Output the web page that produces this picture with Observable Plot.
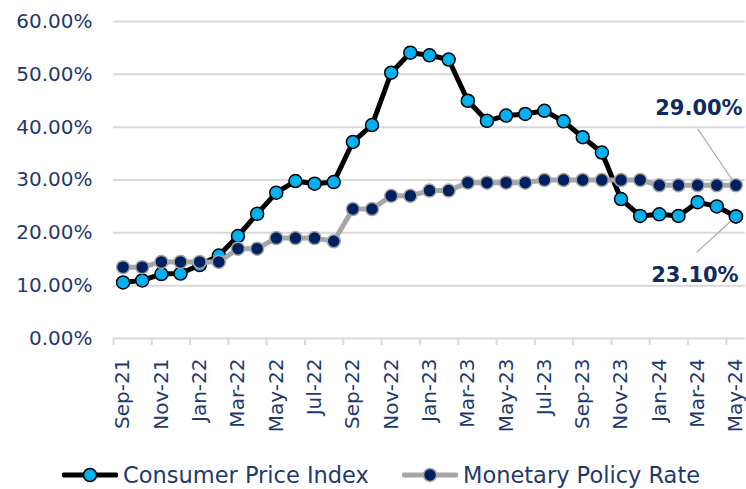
<!DOCTYPE html>
<html>
<head>
<meta charset="utf-8">
<script src="https://cdn.jsdelivr.net/npm/d3@7"></script>
<script src="https://cdn.jsdelivr.net/npm/@observablehq/plot@0.6"></script>
<style>
  html, body { margin: 0; padding: 0; background: #fff; }
  #chart svg { display: block; }
  #legend { position: relative; width: 746px; height: 31px; font-family: "DejaVu Sans", sans-serif; font-size: 22.5px; color: #1f3a6e; }
  .item { position: absolute; top: 0; height: 34px; display: flex; align-items: center; white-space: nowrap; line-height: 1; }
  .item svg { margin-right: 5px; }
</style>
</head>
<body>
<div id="chart"></div>
<div id="legend"></div>
<script>
const months = ["Sep-21","Oct-21","Nov-21","Dec-21","Jan-22","Feb-22","Mar-22","Apr-22","May-22","Jun-22","Jul-22","Aug-22",
  "Sep-22","Oct-22","Nov-22","Dec-22","Jan-23","Feb-23","Mar-23","Apr-23","May-23","Jun-23","Jul-23","Aug-23",
  "Sep-23","Oct-23","Nov-23","Dec-23","Jan-24","Feb-24","Mar-24","Apr-24","May-24"];
const cpi = [10.6, 11.0, 12.2, 12.3, 13.9, 15.7, 19.4, 23.6, 27.6, 29.8, 29.3, 29.6,
  37.2, 40.4, 50.3, 54.1, 53.6, 52.8, 45.0, 41.2, 42.2, 42.5, 43.1, 41.1,
  38.1, 35.2, 26.4, 23.2, 23.5, 23.2, 25.8, 25.0, 23.1];
const mpr = [13.5, 13.5, 14.5, 14.5, 14.5, 14.5, 17.0, 17.0, 19.0, 19.0, 19.0, 18.4,
  24.5, 24.5, 27.0, 27.0, 28.0, 28.0, 29.5, 29.5, 29.5, 29.5, 30.0, 30.0,
  30.0, 30.0, 30.0, 30.0, 29.0, 29.0, 29.0, 29.0, 29.0];
const yTicks = [0, 10, 20, 30, 40, 50, 60];
const seriesNames = ["Consumer Price Index", "Monetary Policy Rate"];

const navy = "#1f3a6e";
const cpiData = months.map((m, i) => ({i, m, v: cpi[i]}));
const mprData = months.map((m, i) => ({i, m, v: mpr[i]}));
const labelIdx = months.map((m, i) => i).filter(i => i % 2 === 0);
const boundaries = labelIdx.map(i => i - 0.5);
const lastCpi = cpiData[cpiData.length - 1];
const lastMpr = mprData[mprData.length - 1];
const fmt = v => v.toFixed(2) + "%";

const chart = Plot.plot({
  width: 746,
  height: 458,
  marginLeft: 113,
  marginRight: 1,
  marginTop: 21,
  marginBottom: 120,
  x: {type: "linear", domain: [-0.5, months.length - 0.5]},
  y: {domain: [0, 60]},
  style: {fontFamily: "DejaVu Sans, sans-serif", fontSize: "20px", color: navy, background: "#fff", overflow: "visible"},
  marks: [
    Plot.ruleY(yTicks, {stroke: "#d9d9d9", strokeWidth: 2}),
    Plot.axisY({ticks: yTicks, tickSize: 0, tickPadding: 21, tickFormat: fmt, label: null}),
    Plot.axisX({ticks: boundaries, tickSize: 7, tickFormat: () => "", stroke: "#d9d9d9", strokeWidth: 2, label: null}),
    Plot.axisX({ticks: labelIdx, tickSize: 0, tickPadding: 20, tickRotate: -90, tickFormat: i => months[i], label: null}),
    Plot.line(cpiData, {x: "i", y: "v", stroke: "#000", strokeWidth: 5, strokeLinejoin: "round"}),
    Plot.dot(cpiData, {x: "i", y: "v", r: 6.5, fill: "#00b0f0", stroke: "#000", strokeWidth: 1.5}),
    Plot.link([lastMpr], {x1: "i", y1: "v", x2: d => d.i - 2.0, y2: d => d.v + 10.7, stroke: "#a6a6a6", strokeWidth: 1.2}),
    Plot.link([lastCpi], {x1: "i", y1: "v", x2: d => d.i - 2.05, y2: d => d.v - 6.8, stroke: "#a6a6a6", strokeWidth: 1.2}),
    Plot.line(mprData, {x: "i", y: "v", stroke: "#a6a6a6", strokeWidth: 5, strokeLinejoin: "round"}),
    Plot.dot(mprData, {x: "i", y: "v", r: 6.5, fill: "#002060", stroke: "#a6a6a6", strokeWidth: 1.5}),
    Plot.dot(cpiData.slice(-1), {x: "i", y: "v", r: 6.5, fill: "#00b0f0", stroke: "#000", strokeWidth: 1.5}),
    Plot.text([lastMpr], {x: "i", y: "v", text: d => fmt(d.v), dx: -37, dy: -77, fontWeight: "bold", fontSize: 21, fill: "#0e2a62"}),
    Plot.text([lastCpi], {x: "i", y: "v", text: d => fmt(d.v), dx: -41, dy: 59, fontWeight: "bold", fontSize: 21, fill: "#0e2a62"})
  ]
});
document.getElementById("chart").appendChild(chart);

// Legend
const legend = document.getElementById("legend");
const styles = [
  {line: "#000", fill: "#00b0f0", stroke: "#000", left: 62},
  {line: "#a6a6a6", fill: "#002060", stroke: "#a6a6a6", left: 402}
];
seriesNames.forEach((name, k) => {
  const s = styles[k];
  const item = document.createElement("div");
  item.className = "item";
  item.style.left = s.left + "px";
  item.innerHTML = `<svg width="56" height="18"><line x1="2" y1="9" x2="54" y2="9" stroke="${s.line}" stroke-width="5" stroke-linecap="round"/><circle cx="28" cy="9" r="6.5" fill="${s.fill}" stroke="${s.stroke}" stroke-width="1.5"/></svg><span>${name}</span>`;
  legend.appendChild(item);
});
</script>
</body>
</html>
